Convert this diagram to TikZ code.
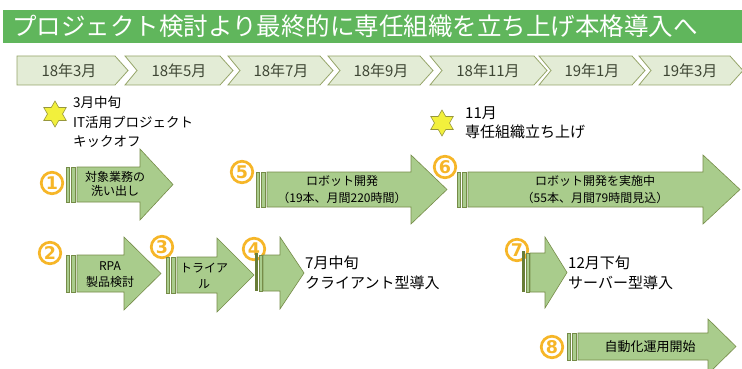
\documentclass[tikz,border=0pt]{standalone}
\usepackage{fontspec}
\setmainfont{Noto Sans CJK JP}
\newfontfamily\digitfont{DejaVu Sans}
\usetikzlibrary{shapes.geometric}
\definecolor{titlegreen}{RGB}{96,182,92}
\definecolor{chevfill}{RGB}{227,236,214}
\definecolor{chevline}{RGB}{150,165,105}
\definecolor{chevtext}{RGB}{62,70,52}
\definecolor{arrowfill}{RGB}{169,204,140}
\definecolor{arrowline}{RGB}{118,140,72}
\definecolor{darkbar}{RGB}{105,125,55}
\definecolor{gold}{RGB}{246,182,40}
\definecolor{starfill}{RGB}{242,240,60}
\definecolor{starline}{RGB}{150,150,60}
\tikzset{
  chev/.style={fill=chevfill,draw=chevline,line width=0.8pt},
  chevlabel/.style={text=chevtext,font=\fontsize{15}{15}\selectfont,inner sep=0pt},
  arw/.style={fill=arrowfill,draw=arrowline,line width=0.6pt},
  inlabel/.style={align=center,text=black,inner sep=0pt},
  sidelabel/.style={align=left,anchor=west,text=black,inner sep=0pt},
  cnum/.style={circle,draw=gold,line width=2.7pt,minimum size=21.5pt,inner sep=0pt,text=gold,font=\digitfont\bfseries\fontsize{17.5}{17.5}\selectfont},
  hexstar/.style={star,star points=6,star point ratio=1.73,minimum size=26pt,inner sep=0pt,fill=starfill,draw=starline,line width=0.6pt}
}
\newcommand\sarrow[7]{%
  \draw[arw] (#1,#2) rectangle (#1+3,#3);
  \draw[arw] (#1+5,#2) rectangle (#1+9,#3);
  \draw[arw] (#1+11,#2) -- (#4,#2) -- (#4,#5) -- (#7,{(#2+#3)/2}) -- (#4,#6) -- (#4,#3) -- (#1+11,#3) -- cycle;
}
\newcommand\darrowx[7]{%
  \fill[darkbar] (#1,#2-2) rectangle (#1+3,#3);
  \draw[arw] (#1+4,#2) rectangle (#1+7,#3);
  \draw[arw] (#1+8,#2) -- (#4,#2) -- (#4,#5) -- (#7,{(#2+#3)/2}) -- (#4,#6) -- (#4,#3) -- (#1+8,#3) -- cycle;
}
\newcommand\chevron[3]{% left, right, unused
  \draw[chev] (#1,56) -- (#2-13,56) -- (#2,70.5) -- (#2-13,85) -- (#1,85) -- (#1+12,70.5) -- cycle;
}
\begin{document}
\begin{tikzpicture}[x=1pt,y=-1pt]
\useasboundingbox (0,0) rectangle (742,369);
\fill[white] (0,0) rectangle (742,369);
% title bar
\fill[titlegreen] (3,10) rectangle (742,43);
\node[anchor=west,inner sep=0pt,text=white,font=\fontsize{24.5}{26}\selectfont] (title) at (12,26.5) {プロジェクト検討より最終的に専任組織を立ち上げ本格導入へ};
% timeline
\draw[chev] (17,56) -- (115,56) -- (128,70.5) -- (115,85) -- (17,85) -- cycle;
\node[chevlabel] (m1) at (69,70.5) {18年3月};
\chevron{125}{233}{}
\node[chevlabel] (m2) at (179,70.5) {18年5月};
\chevron{228}{333}{}
\node[chevlabel] (m3) at (281,70.5) {18年7月};
\chevron{328}{433}{}
\node[chevlabel] (m4) at (381,70.5) {18年9月};
\chevron{430}{547}{}
\node[chevlabel] (m5) at (488,70.5) {18年11月};
\chevron{539}{645}{}
\node[chevlabel] (m6) at (592,70.5) {19年1月};
\chevron{639}{743}{}
\node[chevlabel] (m7) at (690,70.5) {19年3月};
% stars
\node[hexstar] (s1) at (55,114) {};
\node[sidelabel,font=\fontsize{13.5}{19.5}\selectfont] (s1t) at (73,122) {3月中旬\\IT活用プロジェクト\\キックオフ};
\node[hexstar] (s2) at (442,123) {};
\node[sidelabel,font=\fontsize{15}{19}\selectfont] (s2t) at (465,122.5) {11月\\専任組織立ち上げ};
% circled numbers
\node[cnum] (c1) at (52,183) {1};
\node[cnum] (c2) at (50,253) {2};
\node[cnum] (c3) at (162,247) {3};
\node[cnum] (c4) at (254,249) {4};
\node[cnum] (c5) at (242,172) {5};
\node[cnum] (c6) at (445,167) {6};
\node[cnum] (c7) at (517,250) {7};
\node[cnum] (c8) at (552,347) {8};
% arrows
\sarrow{66}{167}{202}{140}{149}{220}{173}
\node[inlabel,font=\fontsize{12}{13.5}\selectfont] (a1) at (115,184) {対象業務の\\洗い出し};
\sarrow{66}{255}{292}{124}{237}{310}{161}
\node[inlabel,font=\fontsize{12}{16}\selectfont] (a2) at (110,275) {RPA\\製品検討};
\sarrow{166}{257}{293}{217}{238}{312}{254}
\node[inlabel,font=\fontsize{12}{16}\selectfont] (a3) at (204,276) {トライア\\ル};
\darrowx{255}{255}{291}{280}{237}{309}{304}
\node[sidelabel,font=\fontsize{15}{20}\selectfont] (a4) at (305,273) {7月中旬\\クライアント型導入};
\sarrow{256}{172}{207}{411}{155}{224}{447}
\node[inlabel,font=\fontsize{12}{17}\selectfont] (a5) at (342,189.5) {ロボット開発\\（19本、月間220時間）};
\sarrow{457}{172}{207}{703}{155}{224}{740}
\node[inlabel,font=\fontsize{12}{17}\selectfont] (a6) at (595,189.5) {ロボット開発を実施中\\（55本、月間79時間見込）};
\darrowx{522}{253}{292}{545}{237}{308}{567}
\node[sidelabel,font=\fontsize{15}{20}\selectfont] (a7) at (568,273) {12月下旬\\サーバー型導入};
\sarrow{567}{333}{360}{708}{319}{374}{736}
\node[inlabel,font=\fontsize{13}{13}\selectfont] (a8) at (650,347) {自動化運用開始};
\end{tikzpicture}
\end{document}
